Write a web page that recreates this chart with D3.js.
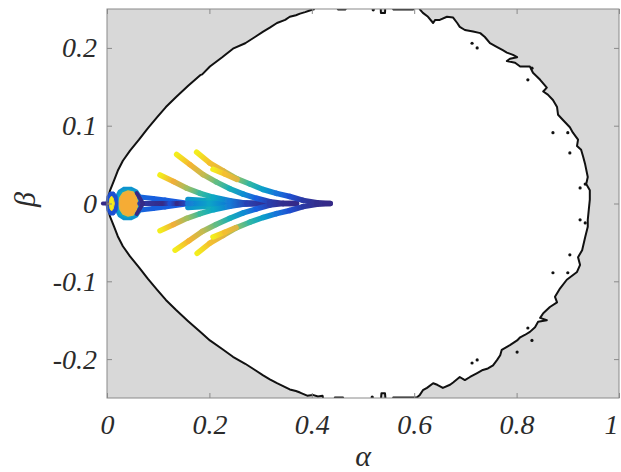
<!DOCTYPE html>
<html>
<head>
<meta charset="utf-8">
<script src="https://cdn.jsdelivr.net/npm/d3@7"></script>
<style>
  body { margin: 0; background: #fff; }
  svg { display: block; }
  .tick text { font-family: "Liberation Serif", "Times New Roman", serif; font-style: italic; font-size: 28px; fill: #2b2b2b; }
</style>
</head>
<body>
<svg id="chart" width="621" height="472"></svg>
<script>
// ---- axis ticks ----
const xTicks = [0, 0.2, 0.4, 0.6, 0.8, 1];
const xTickLabels = ["0", "0.2", "0.4", "0.6", "0.8", "1"];
const yTicks = [-0.2, -0.1, 0, 0.1, 0.2];
const yTickLabels = ["-0.2", "-0.1", "0", "0.1", "0.2"];

// ---- stability boundary (alpha, beta), traced counter-clockwise from the origin ----
const boundary = [
  [0,0],[0.002,0.007],[0.006,0.017],[0.014,0.030],[0.021,0.042],[0.031,0.055],[0.045,0.068],[0.0625,0.082],
  [0.080,0.097],[0.098,0.111],[0.115,0.124],[0.135,0.137],[0.158,0.151],[0.182,0.165],[0.186,0.166],[0.201,0.176],
  [0.225,0.188],[0.246,0.199],[0.270,0.206],[0.289,0.214],[0.305,0.221],[0.318,0.226],[0.332,0.232],[0.348,0.236],
  [0.357,0.240],[0.369,0.242],[0.377,0.244],[0.387,0.246],[0.396,0.248],[0.404,0.2495],
  [0.408,0.26],[0.448,0.26],[0.451,0.2495],[0.466,0.2495],[0.469,0.26],[0.534,0.26],[0.535,0.245],[0.543,0.245],
  [0.544,0.26],[0.556,0.26],[0.559,0.2495],[0.598,0.2495],[0.603,0.26],[0.608,0.26],[0.611,0.2495],
  [0.617,0.245],[0.627,0.240],[0.637,0.232],[0.641,0.236],[0.650,0.236],[0.664,0.240],[0.676,0.239],[0.684,0.232],
  [0.689,0.227],[0.699,0.223],[0.715,0.221],[0.729,0.219],[0.738,0.214],[0.748,0.206],[0.762,0.201],[0.773,0.197],
  [0.781,0.194],[0.793,0.191],[0.801,0.188],[0.787,0.186],[0.781,0.183],[0.797,0.181],[0.807,0.176],[0.826,0.176],
  [0.832,0.168],[0.840,0.163],[0.846,0.159],[0.859,0.149],[0.852,0.144],[0.861,0.140],[0.871,0.133],[0.879,0.124],
  [0.881,0.114],[0.891,0.107],[0.904,0.098],[0.910,0.091],[0.920,0.082],[0.918,0.074],[0.926,0.069],[0.930,0.060],
  [0.934,0.050],[0.939,0.034],[0.936,0.025],[0.943,0.017],[0.943,0.005],[0.941,-0.008],[0.939,-0.021],[0.939,-0.030],
  [0.934,-0.043],[0.928,-0.060],[0.920,-0.069],[0.924,-0.079],[0.918,-0.088],[0.898,-0.098],[0.885,-0.109],[0.875,-0.120],
  [0.879,-0.127],[0.865,-0.133],[0.852,-0.141],[0.846,-0.147],[0.859,-0.150],[0.842,-0.152],[0.836,-0.159],[0.826,-0.165],
  [0.816,-0.169],[0.807,-0.172],[0.801,-0.176],[0.787,-0.182],[0.771,-0.188],[0.768,-0.195],[0.762,-0.201],[0.754,-0.208],
  [0.744,-0.212],[0.734,-0.214],[0.723,-0.218],[0.709,-0.223],[0.699,-0.227],[0.689,-0.223],[0.676,-0.230],[0.670,-0.233],
  [0.656,-0.237],[0.645,-0.233],[0.637,-0.231],[0.625,-0.237],[0.617,-0.240],[0.611,-0.246],[0.605,-0.2495],
  [0.559,-0.2495],[0.556,-0.26],[0.545,-0.26],[0.543,-0.244],[0.536,-0.244],[0.534,-0.26],[0.464,-0.26],[0.461,-0.2495],
  [0.445,-0.2495],[0.442,-0.26],[0.425,-0.26],[0.421,-0.247],[0.412,-0.248],[0.402,-0.246],[0.391,-0.247],[0.384,-0.245],
  [0.377,-0.243],
  [0.369,-0.241],[0.357,-0.239],[0.348,-0.236],[0.332,-0.231],[0.318,-0.226],[0.305,-0.221],[0.289,-0.214],[0.270,-0.206],
  [0.246,-0.197],[0.225,-0.187],[0.201,-0.176],[0.182,-0.165],[0.158,-0.151],[0.135,-0.137],[0.115,-0.124],[0.098,-0.111],
  [0.080,-0.097],[0.0625,-0.082],[0.045,-0.068],[0.031,-0.055],[0.021,-0.042],[0.014,-0.030],[0.006,-0.017],[0.002,-0.007]
];

// small isolated contour pieces near the ragged edge
const islands = [
  [0.520,0.249],[0.713,0.206],[0.723,0.200],[0.830,0.174],[0.822,0.159],[0.871,0.091],[0.900,0.091],[0.904,0.065],
  [0.934,0.025],[0.924,0.020],[0.924,-0.021],[0.934,-0.025],[0.904,-0.066],[0.871,-0.089],[0.900,-0.089],
  [0.822,-0.160],[0.830,-0.176],[0.713,-0.205],[0.723,-0.201],[0.801,-0.191],[0.518,-0.249]
];

// ---- parameter paths: [alpha, beta, level] (level 0 = start of colormap, 1 = end) ----
const pathAUpper = [[0.175,0.066,1],[0.201,0.052,0.9],[0.227,0.042,0.78],[0.253,0.032,0.62],[0.279,0.025,0.48],[0.305,0.018,0.34],[0.331,0.013,0.2],[0.357,0.009,0.1],[0.383,0.004,0.04],[0.410,0.001,0.01],[0.436,0,0]];
const pathALower = [[0.176,-0.064,1],[0.201,-0.051,0.9],[0.227,-0.041,0.78],[0.253,-0.031,0.62],[0.279,-0.024,0.48],[0.305,-0.018,0.34],[0.331,-0.013,0.2],[0.357,-0.009,0.1],[0.383,-0.004,0.04],[0.410,-0.001,0.01],[0.436,0,0]];
const pathA2Upper = [[0.207,0.044,1],[0.230,0.038,0.9],[0.254,0.031,0.76]];
const pathA2Lower = [[0.207,-0.043,1],[0.230,-0.037,0.9],[0.252,-0.031,0.76]];
const pathBUpper = [[0.136,0.063,1],[0.162,0.050,0.88],[0.188,0.037,0.72],[0.214,0.0275,0.56],[0.240,0.019,0.42],[0.266,0.012,0.28],[0.292,0.0067,0.14],[0.318,0.0023,0.05],[0.344,0,0.01],[0.370,0,0]];
const pathBLower = [[0.133,-0.060,1],[0.160,-0.048,0.88],[0.186,-0.036,0.72],[0.213,-0.027,0.56],[0.240,-0.019,0.42],[0.266,-0.012,0.28],[0.292,-0.007,0.14],[0.318,-0.002,0.05],[0.344,0,0.01],[0.370,0,0]];
const pathCUpper = [[0.1035,0.0367,1],[0.130,0.0282,0.84],[0.156,0.0196,0.66],[0.182,0.013,0.5],[0.208,0.008,0.38],[0.240,0.0036,0.22],[0.273,0,0.06],[0.3125,0,0]];
const pathCLower = [[0.1035,-0.035,1],[0.130,-0.027,0.84],[0.156,-0.019,0.66],[0.182,-0.013,0.5],[0.208,-0.008,0.38],[0.240,-0.0035,0.22],[0.273,0,0.06],[0.3125,0,0]];
const pathDUpper = [[0.158,0.005,0.3],[0.200,0.0035,0.4],[0.250,0.0015,0.2],[0.290,0,0.04]];
const pathDLower = [[0.158,-0.005,0.3],[0.200,-0.0035,0.4],[0.250,-0.0015,0.2],[0.290,0,0.04]];
const pathDCenter = [[0.158,0,0.22],[0.200,0,0.36],[0.250,0,0.16],[0.290,0,0.03],[0.3125,0,0]];
const bandUpper = [[0.064,0.0084,0.16],[0.090,0.0065,0.14],[0.113,0.0045,0.14],[0.158,0.0005,0.12]];
const bandLower = [[0.064,-0.0084,0.16],[0.090,-0.0065,0.14],[0.113,-0.0045,0.14],[0.158,-0.0005,0.12]];
const bandCenter = [[0.064,0,0.04],[0.109,0,0],[0.123,0,0.1],[0.137,0,0],[0.158,0,0.1]];
const chevron = [[0.058,0.0135,0],[0.0703,0,0],[0.058,-0.0135,0]];
const axisDash = [[-0.008,0,0],[0.006,0,0]];

// closed loops near the origin, each with one level
const lobeOuter = [[0.0156,0],[0.0176,0.0084],[0.0234,0.0161],[0.0332,0.020],[0.0469,0.020],[0.0586,0.0161],[0.0664,0.0084],[0.0703,0],
                   [0.0664,-0.0084],[0.0586,-0.0161],[0.0469,-0.020],[0.0332,-0.020],[0.0234,-0.0161],[0.0176,-0.0084]];
const lobeOuterLevel = 0.36;
const lobeInner = [[0.0234,0],[0.0254,0.0077],[0.0313,0.0135],[0.041,0.016],[0.0508,0.0148],[0.0566,0.0096],[0.0605,0],
                   [0.0566,-0.0096],[0.0508,-0.0148],[0.041,-0.016],[0.0313,-0.0135],[0.0254,-0.0077]];
const lobeInnerLevel = 0.86;
const ringLoop = [[-0.002,0],[0,0.0096],[0.0059,0.0148],[0.0137,0.0148],[0.0195,0.0096],[0.0215,0],
                  [0.0195,-0.0096],[0.0137,-0.0148],[0.0059,-0.0148],[0,-0.0096]];
const ringLevel = 0.1;
const coreLoop = [[0.004,0],[0.006,0.007],[0.009,0.0095],[0.012,0.007],[0.0145,0],[0.012,-0.007],[0.009,-0.0095],[0.006,-0.007]];
const coreLevel = 1;

// parula-like colormap
const parulaLevels = [0, 0.12, 0.25, 0.37, 0.5, 0.62, 0.75, 0.86, 1];
const parulaStops = ["#352a87","#1a58e0","#1485d4","#06a7c6","#38b99e","#8cc06a","#d8b845","#f5ac36","#f3ee1c"];

// ---- layout ----
const W = 621, H = 472;
const margin = { left: 107, top: 9, right: 2, bottom: 74 };
const x = d3.scaleLinear().domain([0, 1]).range([margin.left, W - margin.right]);
const y = d3.scaleLinear().domain([-0.25, 0.25]).range([H - margin.bottom, margin.top]);
const color = d3.scaleLinear()
  .domain(parulaLevels)
  .range(parulaStops)
  .interpolate(d3.interpolateRgb);

const svg = d3.select("#chart");
const defs = svg.append("defs");
defs.append("clipPath").attr("id", "plotClip")
  .append("rect")
  .attr("x", x(0)).attr("y", y(0.25))
  .attr("width", x(1) - x(0)).attr("height", y(-0.25) - y(0.25));
defs.append("filter").attr("id", "soft")
  .attr("x", "-5%").attr("y", "-5%").attr("width", "110%").attr("height", "110%")
  .append("feGaussianBlur").attr("stdDeviation", 0.7);

const plot = svg.append("g").attr("clip-path", "url(#plotClip)");

// unstable region background
plot.append("rect")
  .attr("x", x(0)).attr("y", y(0.25))
  .attr("width", x(1) - x(0)).attr("height", y(-0.25) - y(0.25))
  .attr("fill", "#d8d8d8");

// stable region with its boundary contour
const polyLine = d3.line().x(d => x(d[0])).y(d => y(d[1])).curve(d3.curveLinearClosed);
plot.append("path")
  .attr("d", polyLine(boundary))
  .attr("fill", "#ffffff")
  .attr("stroke", "#111")
  .attr("stroke-width", 2)
  .attr("stroke-linejoin", "round");

plot.append("g").selectAll("circle").data(islands).join("circle")
  .attr("cx", d => x(d[0])).attr("cy", d => y(d[1]))
  .attr("r", 1.6).attr("fill", "#111");

// ---- colored parameter paths ----
const marks = svg.append("g").attr("filter", "url(#soft)");
let gradId = 0;

function drawLoop(points, level, strokeLevel, strokeWidth) {
  marks.append("path")
    .attr("d", polyLine(points))
    .attr("fill", color(level))
    .attr("stroke", color(strokeLevel))
    .attr("stroke-width", strokeWidth)
    .attr("stroke-linejoin", "round");
}

function drawPath(points, width) {
  for (let i = 0; i < points.length - 1; i++) {
    const a = points[i], b = points[i + 1];
    const id = "g" + (gradId++);
    const g = defs.append("linearGradient").attr("id", id)
      .attr("gradientUnits", "userSpaceOnUse")
      .attr("x1", x(a[0])).attr("y1", y(a[1]))
      .attr("x2", x(b[0])).attr("y2", y(b[1]));
    g.append("stop").attr("offset", 0).attr("stop-color", color(a[2]));
    g.append("stop").attr("offset", 1).attr("stop-color", color(b[2]));
    marks.append("line")
      .attr("x1", x(a[0])).attr("y1", y(a[1]))
      .attr("x2", x(b[0])).attr("y2", y(b[1]))
      .attr("stroke", `url(#${id})`)
      .attr("stroke-width", width)
      .attr("stroke-linecap", "round");
  }
}

// cluster at the origin
drawLoop(lobeOuter, lobeOuterLevel, 0.3, 2.5);
drawLoop(lobeInner, lobeInnerLevel, 0.8, 1.5);
drawPath(bandUpper, 5);
drawPath(bandLower, 5);
drawPath(bandCenter, 5);
drawPath(chevron, 4);
drawLoop(ringLoop, ringLevel, ringLevel, 1);
drawPath(axisDash, 4);
drawLoop(coreLoop, coreLevel, 0.95, 1);

// fan of paths converging on the beta = 0 axis
[pathDUpper, pathDLower, pathDCenter,
 pathCUpper, pathCLower,
 pathBUpper, pathBLower,
 pathAUpper, pathALower,
 pathA2Upper, pathA2Lower].forEach(p => drawPath(p, 5.5));

// ---- axes ----
const axisColor = "#8a8a8a";
function styleAxis(g) {
  g.select(".domain").remove();
  g.selectAll(".tick line").attr("stroke", axisColor);
}
const xAxisG = svg.append("g")
  .attr("transform", `translate(0,${y(-0.25)})`)
  .call(d3.axisBottom(x).tickValues(xTicks).tickFormat((d, i) => xTickLabels[i])
    .tickSizeInner(-5).tickSizeOuter(0).tickPadding(16))
  .call(styleAxis);
// the last label sits against the right edge of the figure
xAxisG.selectAll(".tick text").filter(d => d === 1).attr("text-anchor", "end").attr("dx", -1);

svg.append("g")
  .attr("transform", `translate(${x(0)},0)`)
  .call(d3.axisLeft(y).tickValues(yTicks).tickFormat((d, i) => yTickLabels[i])
    .tickSizeInner(-5).tickSizeOuter(0).tickPadding(10))
  .call(styleAxis);
svg.append("g")
  .attr("transform", `translate(0,${y(0.25)})`)
  .call(d3.axisTop(x).tickValues(xTicks).tickFormat("").tickSizeInner(-5).tickSizeOuter(0))
  .call(styleAxis);
svg.append("g")
  .attr("transform", `translate(${x(1)},0)`)
  .call(d3.axisRight(y).tickValues(yTicks).tickFormat("").tickSizeInner(-5).tickSizeOuter(0))
  .call(styleAxis);

// axes box
svg.append("rect")
  .attr("x", x(0)).attr("y", y(0.25))
  .attr("width", x(1) - x(0)).attr("height", y(-0.25) - y(0.25))
  .attr("fill", "none").attr("stroke", axisColor).attr("stroke-width", 1);

// axis titles
svg.append("text")
  .attr("x", 363).attr("y", 466)
  .attr("text-anchor", "middle")
  .attr("font-family", "'Liberation Serif', 'Times New Roman', serif")
  .attr("font-style", "italic").attr("font-size", 30).attr("fill", "#2b2b2b")
  .text("α");
svg.append("text")
  .attr("transform", `translate(35,${y(0) - 4}) rotate(-90)`)
  .attr("text-anchor", "middle")
  .attr("font-family", "'Liberation Serif', 'Times New Roman', serif")
  .attr("font-style", "italic").attr("font-size", 30).attr("fill", "#2b2b2b")
  .text("β");
</script>
</body>
</html>
